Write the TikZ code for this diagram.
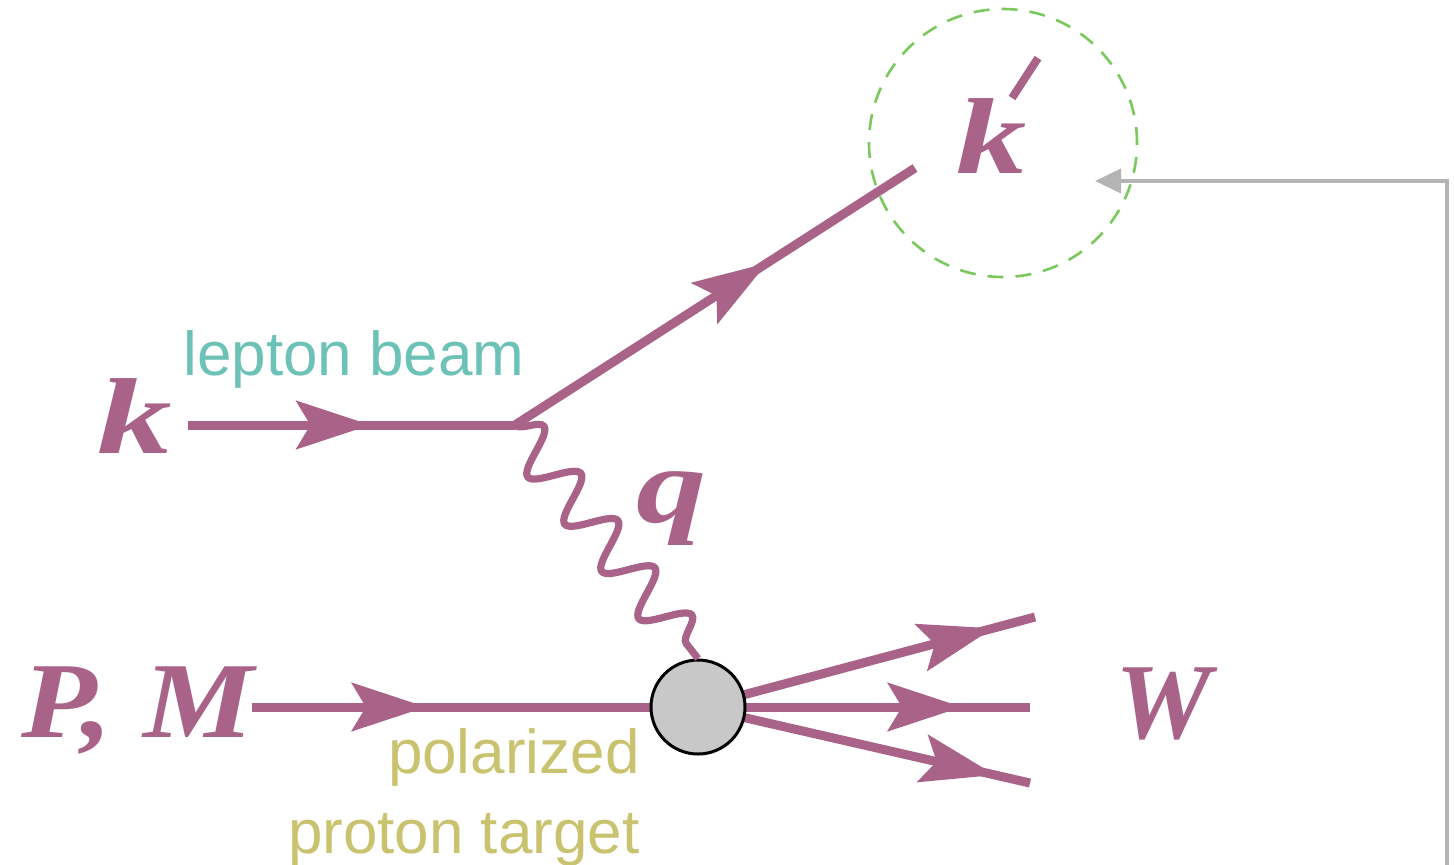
\documentclass[tikz,border=0pt]{standalone}
\usepackage{fontspec}
\setmainfont{Liberation Sans}
\newfontfamily\labfont{Liberation Serif}
\usetikzlibrary{arrows.meta,decorations.markings,decorations.pathmorphing}
\definecolor{fmag}{RGB}{169,99,136}
\definecolor{teal2}{RGB}{108,194,183}
\definecolor{olive2}{RGB}{201,195,112}
\definecolor{green2}{RGB}{121,201,93}
\definecolor{gray2}{RGB}{180,180,180}
\definecolor{blobgray}{RGB}{200,200,200}
\tikzset{
  fermion/.style={color=fmag, line width=4.5pt, postaction={decorate},
    decoration={markings, mark=at position #1 with {\arrow{Stealth[length=37pt,width=24pt,inset=7pt]}}}},
  photon/.style={color=fmag, line width=3.6pt, decorate,
    decoration={snake, segment length=30pt, amplitude=11pt}},
  mathlab/.style={text=fmag, font=\labfont\bfseries\itshape\fontsize{54}{60}\selectfont, inner sep=0pt},
  primestroke/.style={draw=fmag, line width=4pt},
  notelab/.style={font=\fontsize{31}{40}\selectfont, inner sep=0pt},
  blob/.style={circle, fill=blobgray, draw=black, line width=1.5pt, minimum size=47pt, inner sep=0pt},
  focus/.style={circle, draw=green2, line width=1.3pt, dash pattern=on 8pt off 6pt, minimum size=134pt, inner sep=0pt},
  pointer/.style={draw=gray2, line width=2pt, -{Triangle[length=13pt,width=12pt]}},
}
\begin{document}
\begin{tikzpicture}[x=0.5pt,y=-0.5pt]
\useasboundingbox (0,0) rectangle (1454,864);
% vertices
\coordinate (v1) at (515,425);
\coordinate (kstart) at (188,425);
\coordinate (kend) at (915,168);
\coordinate (pstart) at (252,707);
\coordinate (w1) at (1035,617);
\coordinate (w2) at (1030,707);
\coordinate (w3) at (1030,783);
\coordinate (gstart) at (1447,880);
\coordinate (gtip) at (1095,181);
% focus circle
\node[focus] (circ) at (1003,143) {};
% lines
\draw[fermion=0.558] (kstart) -- (v1);
\draw[fermion=0.63] (v1) -- (kend);
\draw[fermion=0.39] (pstart) -- (698,707);
\draw[fermion=0.875] (698,707) -- (w1);
\draw[fermion=0.795] (698,707) -- (w2);
\draw[fermion=0.895] (698,707) -- (w3);
\node[blob] (bl) at (698,707) {};
\draw[photon] (v1) -- (bl.north);
% labels
\node[mathlab, anchor=base] (k) at (135,453) {\scalebox{1.38}[1]{k}};
\node[mathlab, anchor=base] (kp) at (992,173) {\scalebox{1.3}[1]{k}};
\draw[primestroke] ([shift={(20,-75)}]kp.base) -- ([shift={(46,-115)}]kp.base);
\node[mathlab, anchor=base] (q) at (672,522) {\scalebox{1.3}[1]{q}};
\node[mathlab, anchor=base] (pm) at (138,737) {\scalebox{1.15}[1]{P, M}};
\node[mathlab, anchor=base] (w) at (1163,738) {W};
\node[notelab, text=teal2, anchor=base west] (lb) at (183,375) {lepton beam};
\node[notelab, text=olive2, anchor=base east, align=right] (pt) at (640,853) {polarized\\proton target};
% pointer
\draw[pointer] (gstart) |- (gtip);
\end{tikzpicture}
\end{document}
